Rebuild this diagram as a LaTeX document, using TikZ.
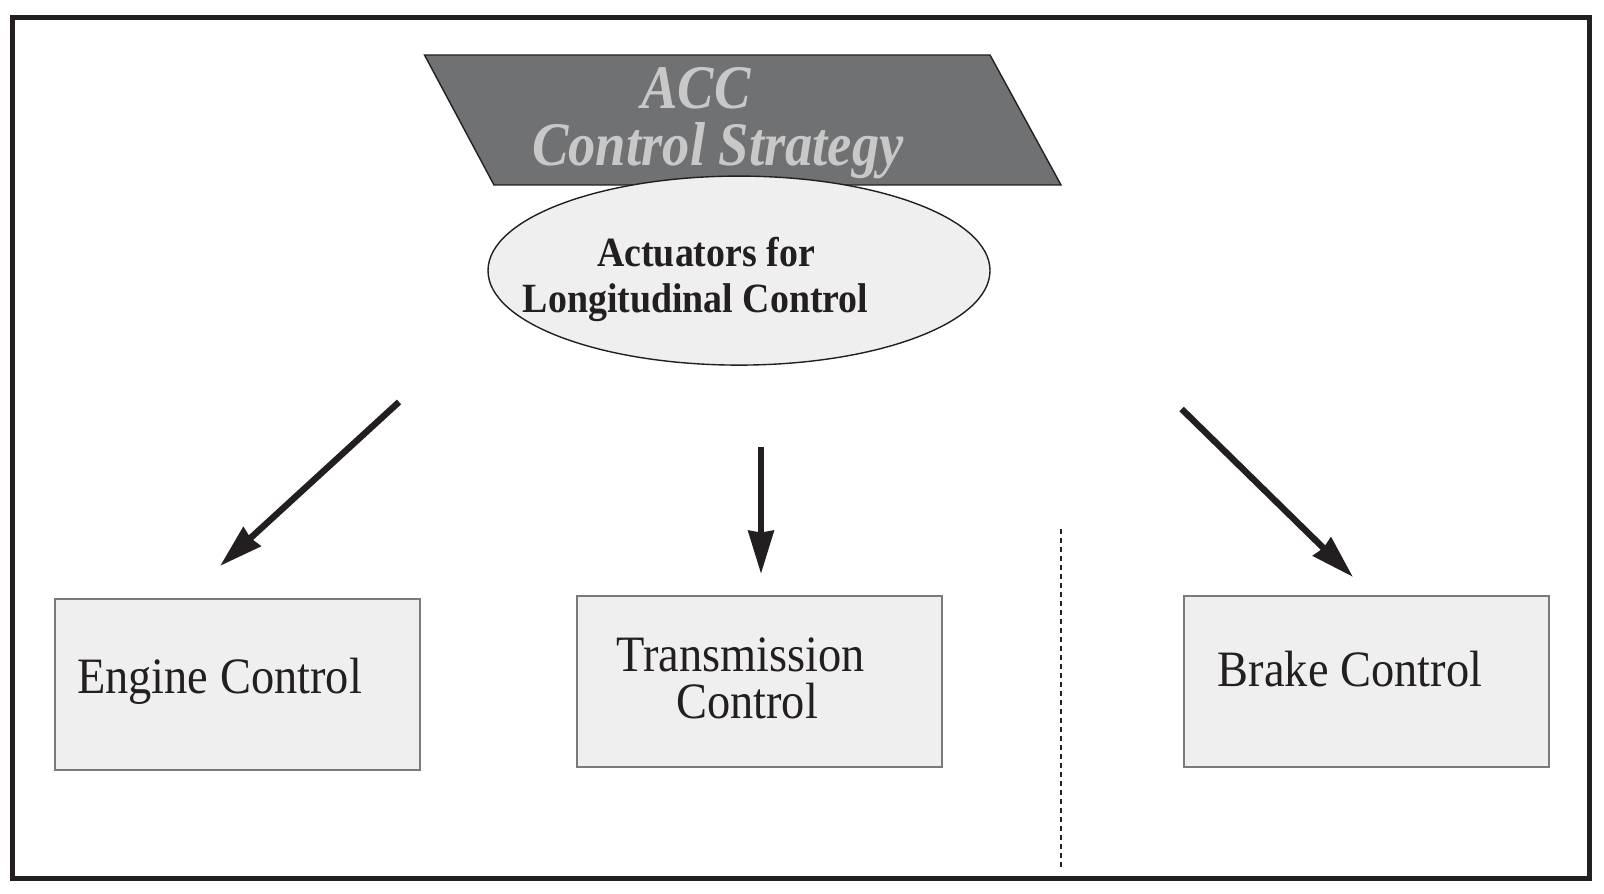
\documentclass[tikz,border=0pt]{standalone}
\usepackage{graphicx}
\usepackage{fontspec}
\setmainfont{Liberation Serif}
\usetikzlibrary{arrows.meta,shapes.geometric}
\definecolor{ink}{HTML}{231F20}
\definecolor{darkbox}{HTML}{707173}
\definecolor{lighttext}{HTML}{C8C8C8}
\definecolor{lightfill}{HTML}{EFEFEF}
\definecolor{boxline}{HTML}{7A7A7A}
\tikzset{
  ctrlbox/.style={draw=boxline,fill=lightfill,line width=1pt,minimum width=182.5pt,minimum height=85.5pt,inner sep=0pt},
  boxtext/.style={inner sep=0pt,text=ink,font=\fontsize{25.5pt}{28pt}\selectfont},
  elltext/.style={inner sep=0pt,text=ink,font=\fontsize{20.8pt}{23pt}\selectfont\bfseries},
  titletext/.style={inner sep=0pt,text=lighttext,font=\fontsize{31pt}{34pt}\selectfont\bfseries\itshape},
  bigarrow/.style={draw=ink,line width=3.2pt,-{Stealth[length=21.5pt,width=12.5pt,inset=0.8pt]}},
}
\begin{document}
\begin{tikzpicture}[x=0.5pt,y=-0.5pt]
\useasboundingbox (0,0) rectangle (1604,893);
% outer frame
\draw[ink,line width=2.5pt] (12.5,17.5) rectangle (1589.5,878.5);
% strategy parallelogram
\draw[fill=darkbox,draw=ink,line width=0.7pt] (424.5,55) -- (990,55) -- (1061,185) -- (494,185) -- cycle;
\node[titletext,anchor=base] (acc) at (696,108.4) {\scalebox{0.88}[1]{ACC}};
\node[titletext,anchor=base] (strat) at (718,165.7) {\scalebox{0.88}[1]{Control Strategy}};
% actuators ellipse
\node[ellipse,draw=ink,fill=lightfill,line width=0.7pt,minimum width=251pt,minimum height=94.5pt,inner sep=0pt] (act) at (739,270.6) {};
\node[elltext,anchor=base] (act1) at (706,266) {\scalebox{0.91}[1]{Actuators for}};
\node[elltext,anchor=base] (act2) at (695.6,312) {\scalebox{0.91}[1]{Longitudinal Control}};
% boxes
\node[ctrlbox] (eng) at (237,684.5) {};
\node[ctrlbox] (trans) at (759.5,681.25) {};
\node[ctrlbox] (brake) at (1366.3,681.25) {};
\node[boxtext,anchor=base west] (engt) at (76.7,693.6) {\scalebox{0.91}[1]{Engine Control}};
\node[boxtext,anchor=base] (transt1) at (740.6,671) {\scalebox{0.91}[1]{Transmission}};
\node[boxtext,anchor=base] (transt2) at (747,718) {\scalebox{0.91}[1]{Control}};
\node[boxtext,anchor=base] (braket) at (1350,686.4) {\scalebox{0.91}[1]{Brake Control}};
% arrow ends
\coordinate (a1s) at (399,402);
\coordinate (a1e) at (220,566);
\coordinate (a2s) at (761,447);
\coordinate (a2e) at (761,574);
\coordinate (a3s) at (1181.6,409);
\coordinate (a3e) at (1353,577);
\draw[bigarrow] (a1s) -- (a1e);
\draw[bigarrow] (a2s) -- (a2e);
\draw[bigarrow] (a3s) -- (a3e);
% dotted divider
\coordinate (d1) at (1061,529);
\coordinate (d2) at (1061,867);
\draw[ink,line width=0.75pt,dash pattern=on 2.5pt off 2pt] (d1) -- (d2);
\end{tikzpicture}
\end{document}
